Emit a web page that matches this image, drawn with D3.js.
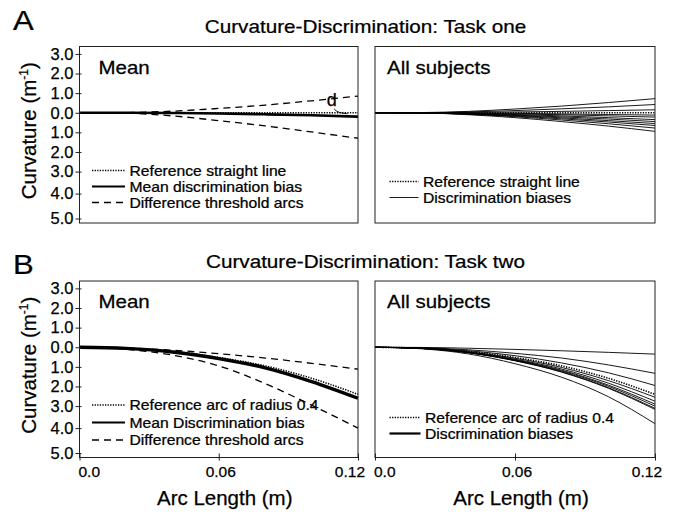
<!DOCTYPE html>
<html>
<head>
<meta charset="utf-8">
<script src="https://cdn.jsdelivr.net/npm/d3@7"></script>
<style>
body { margin: 0; background: #fff; }
svg { font-family: "Liberation Sans", Arial, Helvetica, sans-serif; fill: #000; }
svg text { stroke: #000; stroke-width: 0.25px; }
</style>
</head>
<body>
<svg id="chart" width="675" height="514"></svg>
<script>
// arc length sample points (m)
var armLength = [0, 0.02, 0.04, 0.06, 0.08, 0.10, 0.12];
var xTickValues = [0, 0.06, 0.12];
var xTickText = ["0.0", "0.06", "0.12"];
var yTickValues = [-3, -2, -1, 0, 1, 2, 3, 4, 5];

// Task one (straight line)
var oneReference = [0, 0, 0, 0, 0, 0, 0];
var oneMeanBias = [0, 0, 0.01, 0.04, 0.08, 0.13, 0.20];
var oneUpperArc = [0, -0.01, -0.08, -0.22, -0.39, -0.61, -0.85];
var oneLowerArc = [0, 0.02, 0.16, 0.40, 0.67, 0.98, 1.30];
var oneSubjects = [
    [0, -0.01, -0.07, -0.19, -0.34, -0.52, -0.72],
    [0, 0, -0.04, -0.11, -0.20, -0.30, -0.42],
    [0, 0, -0.02, -0.04, -0.07, -0.11, -0.15],
    [0, 0, 0.01, 0.03, 0.06, 0.09, 0.12],
    [0, 0, 0.02, 0.06, 0.10, 0.16, 0.22],
    [0, 0, 0.04, 0.09, 0.16, 0.25, 0.35],
    [0, 0, 0.05, 0.12, 0.21, 0.32, 0.45],
    [0, 0.01, 0.06, 0.14, 0.26, 0.40, 0.55],
    [0, 0.01, 0.07, 0.17, 0.31, 0.47, 0.65],
    [0, 0.01, 0.08, 0.20, 0.37, 0.56, 0.78],
    [0, 0.01, 0.10, 0.25, 0.45, 0.68, 0.95]
];

// Task two (arc of radius 0.4)
var twoReference = [0, 0.05, 0.21, 0.52, 0.95, 1.58, 2.40];
var twoMeanBias = [0, 0.06, 0.24, 0.58, 1.05, 1.75, 2.60];
var twoUpperArc = [0, 0.04, 0.15, 0.33, 0.55, 0.82, 1.12];
var twoLowerArc = [0, 0.10, 0.40, 0.95, 1.85, 2.95, 4.00];
var twoSubjects = [
    [0, 0.01, 0.05, 0.11, 0.18, 0.26, 0.35],
    [0, 0.03, 0.13, 0.31, 0.55, 0.90, 1.33],
    [0, 0.04, 0.18, 0.43, 0.80, 1.30, 1.95],
    [0, 0.05, 0.23, 0.56, 1.03, 1.70, 2.55],
    [0, 0.06, 0.25, 0.61, 1.11, 1.83, 2.75],
    [0, 0.06, 0.26, 0.64, 1.17, 1.93, 2.90],
    [0, 0.06, 0.27, 0.66, 1.21, 1.99, 3.00],
    [0, 0.06, 0.28, 0.68, 1.25, 2.06, 3.10],
    [0, 0.06, 0.28, 0.69, 1.27, 2.09, 3.15],
    [0, 0.08, 0.34, 0.84, 1.53, 2.52, 3.80]
];

var lineStyles = {
    dotted: {width: 1.6, dash: "1.3,1.3"},
    mean: {width: 2.6, dash: null},
    meanThick: {width: 3.4, dash: null},
    dashed: {width: 1.3, dash: "7,5"},
    thin: {width: 0.9, dash: null},
    legendSolid: {width: 2.2, dash: null}
};

var svg = d3.select("#chart");
var fontStretch = 1.15;

var rows = [
    {top: 46.5, bottom: 223, letter: "A", letterY: 29.5, title: "Curvature-Discrimination: Task one", titleY: 33.3, xAxis: false},
    {top: 281, bottom: 457.5, letter: "B", letterY: 273.5, title: "Curvature-Discrimination: Task two", titleY: 267.5, xAxis: true}
];
var columns = [{left: 79.5, right: 358}, {left: 375, right: 655}];

function stretchText(g, x, y, str, size, anchor, sx) {
    return g.append("text")
        .attr("transform", "translate(" + x + "," + y + ") scale(" + sx + ",1)")
        .attr("text-anchor", anchor || "start")
        .style("font-size", size + "px")
        .text(str);
}

function styled(path, style) {
    path.attr("fill", "none")
        .attr("stroke", "#000")
        .attr("stroke-width", style.width);
    if (style.dash) path.attr("stroke-dasharray", style.dash);
    return path;
}

function drawLegend(g, x0, x1, baseline, entries) {
    entries.forEach(function(e, i) {
        var yy = baseline + i * e.step;
        styled(g.append("line")
            .attr("x1", x0).attr("x2", x1)
            .attr("y1", yy - 5).attr("y2", yy - 5), lineStyles[e.style]);
        stretchText(g, x1 + 4.5, yy, e.text, 14, "start", 1.12);
    });
}

function drawPanel(row, col, lines, name, legend) {
    var x = d3.scaleLinear().domain([0, 0.12]).range([col.left, col.right]);
    var h = row.bottom - row.top;
    var y = d3.scaleLinear().domain([-3, 3, 4, 5])
        .range([row.top + 7.4, row.top + 125.1, row.top + 147.1, row.top + 172]);
    var g = svg.append("g");

    var line = d3.line()
        .x(function(d, i) { return x(armLength[i]); })
        .y(function(d) { return y(d); })
        .curve(d3.curveMonotoneX);

    lines.forEach(function(l) {
        styled(g.append("path").attr("d", line(l.values)), lineStyles[l.style]);
    });

    g.append("rect")
        .attr("x", col.left).attr("y", row.top)
        .attr("width", col.right - col.left).attr("height", h)
        .attr("fill", "none").attr("stroke", "#222").attr("stroke-width", 1);

    stretchText(g, col.left + (name == "Mean" ? 19 : 12), row.top + 27, name, 17.5, "start", 1.17);

    var L = legend;
    drawLegend(g, col.left + L.dx, col.left + L.dx + L.w, L.y, L.entries);

    if (row.xAxis) {
        var xa = g.append("g")
            .attr("transform", "translate(0," + row.bottom + ")")
            .call(d3.axisBottom(x).tickValues(xTickValues).tickSize(3).tickFormat(""));
        xa.select(".domain").remove();
        xa.selectAll(".tick line").attr("y1", -4).attr("y2", 3).attr("stroke", "#222");
        xTickValues.forEach(function(v, i) {
            var anchor = i == 0 ? "start" : (i == 2 ? "end" : "middle");
            var off = i == 0 ? -1 : (i == 2 ? 7 : 2);
            g.append("text")
                .attr("x", x(v) + off).attr("y", row.bottom + 19.5)
                .attr("text-anchor", anchor)
                .style("font-size", "15.5px")
                .text(xTickText[i]);
        });
        g.append("text")
            .attr("x", (col.left + col.right) / 2 + 6).attr("y", row.bottom + 47)
            .attr("text-anchor", "middle")
            .style("font-size", "20.5px")
            .text("Arc Length (m)");
    }
    return {x: x, y: y, g: g};
}

function drawYAxis(row, col, y) {
    var ya = svg.append("g")
        .attr("transform", "translate(" + col.left + ",0)")
        .call(d3.axisLeft(y).tickValues(yTickValues).tickSize(4).tickPadding(2)
            .tickFormat(function(d) { return Math.abs(d).toFixed(1); }));
    ya.select(".domain").remove();
    ya.selectAll(".tick line").attr("x2", -4).attr("x1", 2).attr("stroke", "#222");
    ya.selectAll(".tick text").style("font-size", "16.5px").attr("fill", "#000");

    var lab = svg.append("text")
        .attr("transform", "translate(36," + ((row.top + row.bottom) / 2 - 4) + ") rotate(-90)")
        .attr("text-anchor", "middle")
        .style("font-size", "20.5px");
    lab.append("tspan").text("Curvature (m");
    lab.append("tspan").attr("dy", -8).style("font-size", "12px").text("-1");
    lab.append("tspan").attr("dy", 8).text(")");
}

rows.forEach(function(row) {
    stretchText(svg, 13, row.letterY, row.letter, 27, "start", 1.15);
    stretchText(svg, 365.5, row.titleY, row.title, 18, "middle", fontStretch);
});

// Task one, mean
var p1 = drawPanel(rows[0], columns[0], [
    {values: oneUpperArc, style: "dashed"},
    {values: oneLowerArc, style: "dashed"},
    {values: oneMeanBias, style: "mean"},
    {values: oneReference, style: "dotted"}
], "Mean", {dx: 12.5, w: 33, y: 175.5, entries: [
    {style: "dotted", text: "Reference straight line", step: 16},
    {style: "legendSolid", text: "Mean discrimination bias", step: 16},
    {style: "dashed", text: "Difference threshold arcs", step: 16}
]});
drawYAxis(rows[0], columns[0], p1.y);

// small "d" marker at the end of the threshold arc
p1.g.append("text")
    .attr("x", p1.x(0.1065)).attr("y", p1.y(-0.32))
    .style("font-size", "18px")
    .text("d");
p1.g.append("path")
    .attr("d", "M" + p1.x(0.1097) + "," + p1.y(-0.2) + " Q" + p1.x(0.111) + "," + p1.y(0.02) +
        " " + p1.x(0.1155) + "," + p1.y(0.05))
    .attr("fill", "none").attr("stroke", "#000").attr("stroke-width", 0.9);

// Task one, all subjects
var oneAll = oneSubjects.map(function(s) { return {values: s, style: "thin"}; });
oneAll.push({values: oneReference, style: "dotted"});
drawPanel(rows[0], columns[1], oneAll, "All subjects", {dx: 14.5, w: 29, y: 186.5, entries: [
    {style: "dotted", text: "Reference straight line", step: 16},
    {style: "thin", text: "Discrimination biases", step: 16}
]});

// Task two, mean
var p2 = drawPanel(rows[1], columns[0], [
    {values: twoUpperArc, style: "dashed"},
    {values: twoLowerArc, style: "dashed"},
    {values: twoMeanBias, style: "meanThick"},
    {values: twoReference, style: "dotted"}
], "Mean", {dx: 12.5, w: 33, y: 410, entries: [
    {style: "dotted", text: "Reference arc of radius 0.4", step: 17.5},
    {style: "legendSolid", text: "Mean Discrimination bias", step: 17.5},
    {style: "dashed", text: "Difference threshold arcs", step: 17.5}
]});
drawYAxis(rows[1], columns[0], p2.y);

// Task two, all subjects
var twoAll = twoSubjects.map(function(s) { return {values: s, style: "thin"}; });
twoAll.push({values: twoReference, style: "dotted"});
drawPanel(rows[1], columns[1], twoAll, "All subjects", {dx: 14.5, w: 31, y: 422.5, entries: [
    {style: "dotted", text: "Reference arc of radius 0.4", step: 16},
    {style: "legendSolid", text: "Discrimination biases", step: 16}
]});
</script>
</body>
</html>
